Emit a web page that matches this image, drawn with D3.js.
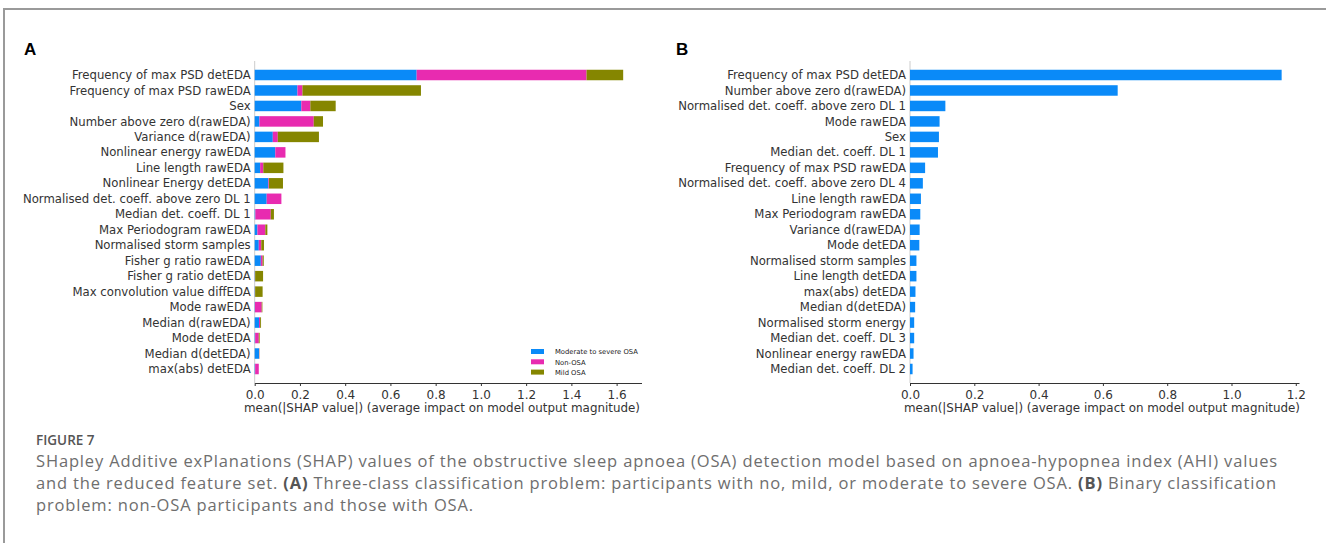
<!DOCTYPE html>
<html>
<head>
<meta charset="utf-8">
<script src="https://cdn.jsdelivr.net/npm/d3@7"></script>
<style>
  body { margin: 0; background: #fff; }
  svg { display: block; }
</style>
</head>
<body>
<svg id="fig" width="1326" height="543"></svg>
<script>
// Panel A: three-class SHAP values, stacked per class
const featuresA = ['Frequency of max PSD detEDA', 'Frequency of max PSD rawEDA', 'Sex',
  'Number above zero d(rawEDA)', 'Variance d(rawEDA)', 'Nonlinear energy rawEDA', 'Line length rawEDA',
  'Nonlinear Energy detEDA', 'Normalised det. coeff. above zero DL 1', 'Median det. coeff. DL 1',
  'Max Periodogram rawEDA', 'Normalised storm samples', 'Fisher g ratio rawEDA', 'Fisher g ratio detEDA',
  'Max convolution value diffEDA', 'Mode rawEDA', 'Median d(rawEDA)', 'Mode detEDA', 'Median d(detEDA)',
  'max(abs) detEDA'];
const moderateA = [0.716, 0.189, 0.206, 0.021, 0.080, 0.091, 0.024, 0.060, 0.053, 0.003,
  0.012, 0.018, 0.027, 0.001, 0.001, 0.001, 0.019, 0.002, 0.019, 0.002];
const nonOsaA = [0.751, 0.022, 0.040, 0.240, 0.022, 0.045, 0.014, 0.003, 0.065, 0.068,
  0.035, 0.011, 0.008, 0.001, 0.001, 0.030, 0.005, 0.016, 0.001, 0.016];
const mildA = [0.162, 0.524, 0.112, 0.041, 0.182, 0.000, 0.089, 0.062, 0.000, 0.014,
  0.009, 0.012, 0.005, 0.035, 0.033, 0.003, 0.004, 0.004, 0.001, 0.000];
const classNames = ['Moderate to severe OSA', 'Non-OSA', 'Mild OSA'];
const ticksA = [0, 0.2, 0.4, 0.6, 0.8, 1.0, 1.2, 1.4, 1.6];

// Panel B: binary SHAP values
const featuresB = ['Frequency of max PSD detEDA', 'Number above zero d(rawEDA)',
  'Normalised det. coeff. above zero DL 1', 'Mode rawEDA', 'Sex', 'Median det. coeff. DL 1',
  'Frequency of max PSD rawEDA', 'Normalised det. coeff. above zero DL 4', 'Line length rawEDA',
  'Max Periodogram rawEDA', 'Variance d(rawEDA)', 'Mode detEDA', 'Normalised storm samples',
  'Line length detEDA', 'max(abs) detEDA', 'Median d(detEDA)', 'Normalised storm energy',
  'Median det. coeff. DL 3', 'Nonlinear energy rawEDA', 'Median det. coeff. DL 2'];
const valuesB = [1.156, 0.646, 0.110, 0.092, 0.090, 0.087, 0.047, 0.040, 0.034, 0.032,
  0.030, 0.029, 0.020, 0.020, 0.017, 0.016, 0.013, 0.013, 0.011, 0.008];
const ticksB = [0, 0.2, 0.4, 0.6, 0.8, 1.0, 1.2];

const colors = ['#0a8af8', '#e82bb0', '#858600'];
const svg = d3.select('#fig');
const font = 'DejaVu Sans, sans-serif';

// figure frame
svg.append('path')
  .attr('d', 'M4,543 V9 H1326')
  .attr('fill', 'none')
  .attr('stroke', '#9a9a9a')
  .attr('stroke-width', 2);

function drawPanel(opts) {
  const g = svg.append('g');
  const x = d3.scaleLinear().domain(opts.domain).range([opts.x0, opts.x1]);
  const y = d3.scalePoint().domain(opts.features).range([75, 369]);
  const barH = 10.5;

  g.append('text')
    .attr('x', opts.labelX).attr('y', 55)
    .attr('font-family', 'Liberation Sans, Arial, sans-serif')
    .attr('font-weight', 'bold').attr('font-size', 17)
    .text(opts.letter);

  // left spine
  g.append('line')
    .attr('x1', opts.x0).attr('x2', opts.x0)
    .attr('y1', 61).attr('y2', 383)
    .attr('stroke', '#cccccc');

  opts.drawBars(g, x, y, barH);

  // feature labels
  g.selectAll('text.feat')
    .data(opts.features)
    .join('text')
    .attr('class', 'feat')
    .attr('x', opts.x0 - 4)
    .attr('y', d => y(d))
    .attr('dy', '0.35em')
    .attr('text-anchor', 'end')
    .attr('font-family', font)
    .attr('font-size', 11.7)
    .attr('fill', '#333')
    .text(d => d);

  const axis = d3.axisBottom(x)
    .tickValues(opts.ticks)
    .tickFormat(d3.format('.1f'))
    .tickSize(3)
    .tickSizeOuter(0);
  const ax = g.append('g')
    .attr('transform', 'translate(0,383)')
    .call(axis);
  ax.select('.domain').attr('stroke', '#333');
  ax.selectAll('.tick line').attr('stroke', '#333');
  ax.selectAll('.tick text')
    .attr('font-family', font)
    .attr('font-size', 12)
    .attr('fill', '#333')
    .attr('dy', '0.85em');

  g.append('text')
    .attr('x', opts.xLabelX)
    .attr('y', 412)
    .attr('text-anchor', 'middle')
    .attr('font-family', font)
    .attr('font-size', 11.9)
    .attr('fill', '#333')
    .text('mean(|SHAP value|) (average impact on model output magnitude)');
  return g;
}

// Panel A
const rowsA = featuresA.map((f, i) => ({ feature: f, m: moderateA[i], n: nonOsaA[i], o: mildA[i] }));
const stackA = d3.stack().keys(['m', 'n', 'o'])(rowsA);

drawPanel({
  letter: 'A', labelX: 24, xLabelX: 442,
  features: featuresA, domain: [0, 1.71], x0: 254.7, x1: 641.5, ticks: ticksA,
  drawBars: (g, x, y, barH) => {
    stackA.forEach((layer, k) => {
      g.append('g').selectAll('rect')
        .data(layer)
        .join('rect')
        .attr('x', d => x(d[0]))
        .attr('y', d => y(d.data.feature) - barH / 2)
        .attr('width', d => Math.max(0, x(d[1]) - x(d[0])))
        .attr('height', barH)
        .attr('fill', colors[k]);
    });
    // legend
    const lg = g.append('g');
    classNames.forEach((c, i) => {
      lg.append('rect')
        .attr('x', 531).attr('y', 349 + i * 10.3)
        .attr('width', 13).attr('height', 5)
        .attr('fill', colors[i]);
      lg.append('text')
        .attr('x', 555).attr('y', 352 + i * 10.3)
        .attr('dy', '0.35em')
        .attr('font-family', font)
        .attr('font-size', 6.8)
        .attr('fill', '#222')
        .text(c);
    });
  }
});

// Panel B
drawPanel({
  letter: 'B', labelX: 676, xLabelX: 1102,
  features: featuresB, domain: [0, 1.21], x0: 910, x1: 1299, ticks: ticksB,
  drawBars: (g, x, y, barH) => {
    g.selectAll('rect.b')
      .data(featuresB)
      .join('rect')
      .attr('class', 'b')
      .attr('x', x(0))
      .attr('y', d => y(d) - barH / 2)
      .attr('width', (d, i) => x(valuesB[i]) - x(0))
      .attr('height', barH)
      .attr('fill', colors[0]);
  }
});

// caption
const capX = 36;
const cap = svg.append('g').attr('font-family', 'Open Sans, Lato, sans-serif');
cap.append('text')
  .attr('x', capX).attr('y', 445)
  .attr('font-size', 13.5).attr('font-weight', 600).attr('fill', '#555')
  .text('FIGURE 7');
const capLines = [
  'SHapley Additive exPlanations (SHAP) values of the obstructive sleep apnoea (OSA) detection model based on apnoea-hypopnea index (AHI) values',
  ['and the reduced feature set. ', '(A)', ' Three-class classification problem: participants with no, mild, or moderate to severe OSA. ', '(B)', ' Binary classification'],
  'problem: non-OSA participants and those with OSA.'
];
const capTexts = capLines.map((ln, i) => {
  const t = cap.append('text')
    .attr('x', capX).attr('y', 467 + i * 22)
    .attr('font-size', 16.5).attr('fill', '#6e6e6e');
  const parts = Array.isArray(ln) ? ln : [ln];
  parts.forEach(p => {
    const strong = p === '(A)' || p === '(B)';
    t.append('tspan')
      .attr('font-weight', strong ? 700 : 400)
      .attr('fill', strong ? '#555' : null)
      .text(p);
  });
  return t;
});
// widen letter spacing so the first line spans the width it has in the original
const w = capTexts[0].node().getComputedTextLength();
const ls = Math.max(0, (1242 - w) / capLines[0].length);
capTexts.forEach(t => t.attr('letter-spacing', ls));
</script>
</body>
</html>
